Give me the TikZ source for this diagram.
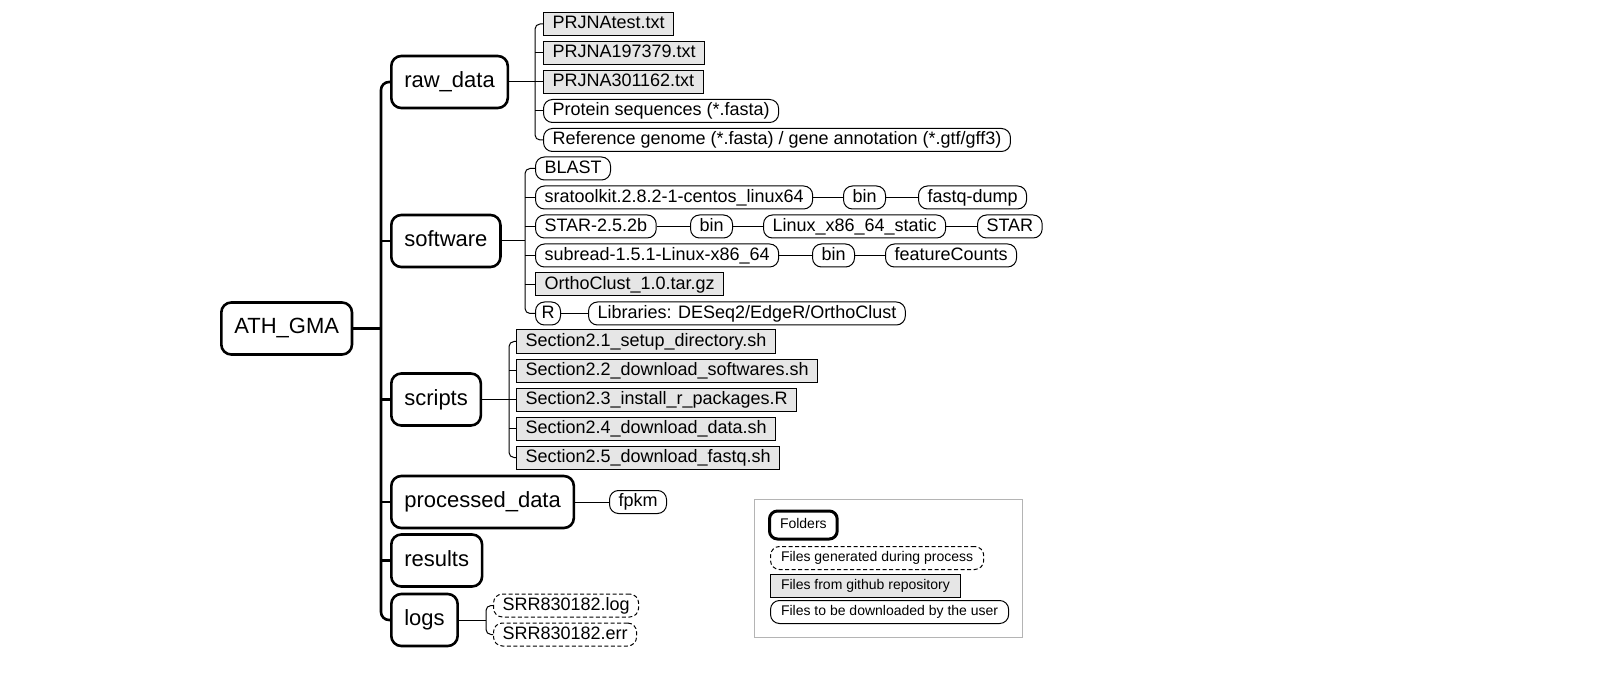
\documentclass[tikz,border=0pt]{standalone}
\usepackage{fontspec}
\setmainfont{Liberation Sans}
\definecolor{ghfill}{HTML}{E6E6E6}
\definecolor{legframe}{HTML}{B4B4B4}
\tikzset{
  folder/.style={draw, line width=2.6pt, rounded corners=10pt, font=\fontsize{22}{26}\selectfont,
    minimum height=52pt, inner xsep=13pt, inner ysep=0pt, text height=16pt, text depth=5pt, anchor=west},
  leaf/.style={draw, line width=1pt, rounded corners=9pt, font=\fontsize{18}{21}\selectfont,
    minimum height=23pt, inner xsep=9pt, inner ysep=0pt, text height=13.5pt, text depth=4pt, anchor=west},
  dl/.style={leaf},
  gh/.style={leaf, sharp corners, fill=ghfill},
  gen/.style={leaf, dash pattern=on 4pt off 2.5pt},
  legtext/.style={font=\fontsize{14}{17}\selectfont, minimum height=23pt, inner xsep=10.5pt,
    text height=10.5pt, text depth=3pt},
  conn/.style={line width=1pt},
  trunk/.style={line width=2.6pt},
}
\begin{document}
\begin{tikzpicture}[x=1pt, y=-1pt]
\fill[white] (0,0) rectangle (1600,700);
\useasboundingbox (0,0) rectangle (1600,700);

% folders
\node[folder] (ath)  at (220,328.5) {ATH\_GMA};
\node[folder] (raw)  at (390,82)    {raw\_data};
\node[folder] (soft) at (390,241)   {software};
\node[folder] (scr)  at (390,399.5) {scripts};
\node[folder] (proc) at (390,502)   {processed\_data};
\node[folder] (res)  at (390,560.5) {results};
\node[folder] (logs) at (390,620)   {logs};

% trunk
\coordinate (tk) at (381,328.5);
\draw[trunk, rounded corners=8pt] (raw.west) -| (tk) |- (logs.west);
\draw[trunk] (ath.east) -- (tk);
\foreach \f in {soft,scr,proc,res} \draw[trunk] (tk |- \f.west) -- (\f.west);

% raw_data children
\node[gh] (r1) at (543,24)  {PRJNAtest.txt};
\node[gh] (r2) at (543,53)  {PRJNA197379.txt};
\node[gh] (r3) at (543,82)  {PRJNA301162.txt};
\node[dl] (r4) at (543,111) {Protein sequences (*.fasta)};
\node[dl] (r5) at (543,140) {Reference genome (*.fasta) / gene annotation (*.gtf/gff3)};
\coordinate (rawb) at (535,82);
\draw[conn] (raw.east) -- (rawb);
\draw[conn, rounded corners=5pt] (r1.west) -| (rawb) |- (r5.west);
\foreach \c in {r2,r3,r4} \draw[conn] (rawb |- \c.west) -- (\c.west);

% software children
\node[dl] (s1) at (535,168.5) {BLAST};
\node[dl] (s2) at (535,197.5) {sratoolkit.2.8.2-1-centos\_linux64};
\node[dl] (s2a) at (843,197.5) {bin};
\node[dl] (s2b) at (918,197.5) {fastq-dump};
\node[dl] (s3) at (535,226.5) {STAR-2.5.2b};
\node[dl] (s3a) at (690,226.5) {bin};
\node[dl] (s3b) at (763,226.5) {Linux\_x86\_64\_static};
\node[dl] (s3c) at (977,226.5) {STAR};
\node[dl] (s4) at (535,255.5) {subread-1.5.1-Linux-x86\_64};
\node[dl] (s4a) at (812,255.5) {bin};
\node[dl] (s4b) at (885,255.5) {featureCounts};
\node[gh] (s5) at (535,284.5) {OrthoClust\_1.0.tar.gz};
\node[dl, inner xsep=6pt] (s6) at (535,313.5) {R};
\node[dl] (s6a) at (588,313.5) {Libraries: DESeq2/EdgeR/OrthoClust};
\coordinate (softb) at (525,241);
\draw[conn] (soft.east) -- (softb);
\draw[conn, rounded corners=5pt] (s1.west) -| (softb) |- (s6.west);
\foreach \c in {s2,s3,s4,s5} \draw[conn] (softb |- \c.west) -- (\c.west);
\draw[conn] (s2.east) -- (s2a.west);
\draw[conn] (s2a.east) -- (s2b.west);
\draw[conn] (s3.east) -- (s3a.west);
\draw[conn] (s3a.east) -- (s3b.west);
\draw[conn] (s3b.east) -- (s3c.west);
\draw[conn] (s4.east) -- (s4a.west);
\draw[conn] (s4a.east) -- (s4b.west);
\draw[conn] (s6.east) -- (s6a.west);

% scripts children
\node[gh] (c1) at (516,341.5) {Section2.1\_setup\_directory.sh};
\node[gh] (c2) at (516,370.5) {Section2.2\_download\_softwares.sh};
\node[gh] (c3) at (516,399.5) {Section2.3\_install\_r\_packages.R};
\node[gh] (c4) at (516,428.5) {Section2.4\_download\_data.sh};
\node[gh] (c5) at (516,457.5) {Section2.5\_download\_fastq.sh};
\coordinate (scrb) at (509,399.5);
\draw[conn] (scr.east) -- (scrb);
\draw[conn, rounded corners=5pt] (c1.west) -| (scrb) |- (c5.west);
\foreach \c in {c2,c3,c4} \draw[conn] (scrb |- \c.west) -- (\c.west);

% processed_data child
\node[dl] (p1) at (609,502) {fpkm};
\draw[conn] (proc.east) -- (p1.west);

% logs children
\node[gen] (l1) at (493,605.5) {SRR830182.log};
\node[gen] (l2) at (493,634.5) {SRR830182.err};
\coordinate (logb) at (486,620);
\draw[conn] (logs.east) -- (logb);
\draw[conn, rounded corners=5pt] (l1.west) -| (logb) |- (l2.west);

% legend
\node[draw=legframe, line width=1pt, minimum width=268pt, minimum height=138pt,
      anchor=north west, inner sep=0pt] (legend) at (754,499) {};
\node[folder, legtext, line width=3pt, minimum height=28pt, rounded corners=8pt] (lf) at (768,525) {Folders};
\node[gen, legtext] (lg) at (770,558) {Files generated during process};
\node[gh, legtext] (lh) at (770,585.5) {Files from github repository};
\node[dl, legtext] (ld) at (770,612) {Files to be downloaded by the user};
\end{tikzpicture}
\end{document}
